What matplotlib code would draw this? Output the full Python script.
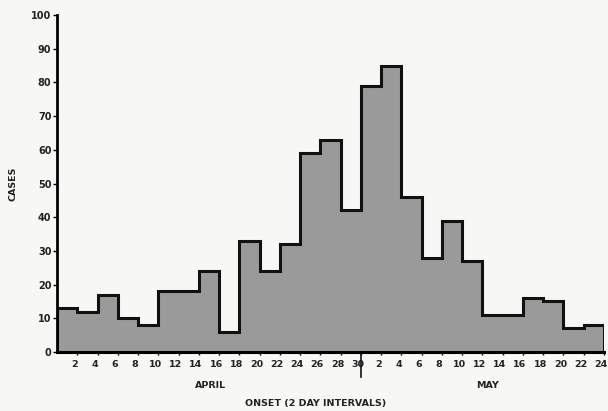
import matplotlib
matplotlib.use("Agg")
import matplotlib.pyplot as plt
import matplotlib.transforms as mtransforms
import numpy as np

# Cases per 2-day onset interval, starting April 1
cases = [13, 12, 17, 10, 8, 18, 18, 24, 6, 33, 24, 32, 59, 63, 42,
         79, 85, 46, 28, 39, 27, 11, 11, 16, 15, 7, 8]
april_labels = [str(d) for d in range(2, 31, 2)]
may_labels = [str(d) for d in range(2, 25, 2)]
y_ticks = list(range(0, 101, 10))

edges = np.arange(0, 2 * len(cases) + 1, 2)
tick_pos = np.arange(2, 2 * len(cases) + 1, 2)
tick_labels = april_labels + may_labels

fig = plt.figure(figsize=(6.08, 4.11), dpi=100, facecolor="#f7f7f5")
ax = fig.add_axes([57 / 608, 1 - 352 / 411, (604 - 57) / 608, (352 - 15) / 411])
ax.set_facecolor("#f7f7f5")

ax.stairs(cases, edges, fill=True, color="#9a9a9a", baseline=0, zorder=1)
ax.stairs(cases, edges, fill=False, color="#111111", linewidth=2.2, baseline=0, zorder=2)

ax.set_xlim(0, edges[-1])
ax.set_ylim(0, 100)
ax.set_yticks(y_ticks)
ax.set_yticklabels([str(v) for v in y_ticks], fontsize=7, fontweight="bold", color="#222222")
ax.set_xticks(tick_pos)
ax.set_xticklabels(tick_labels, fontsize=6.8, fontweight="bold", color="#222222")
ax.tick_params(axis="y", direction="out", length=3, width=1, pad=1)
ax.tick_params(axis="x", direction="out", length=2, width=1, pad=4)

shift = mtransforms.ScaledTranslation(-3 / 100, 0, fig.dpi_scale_trans)
for lab in ax.get_xticklabels():
    lab.set_transform(lab.get_transform() + shift)

for s in ["top", "right"]:
    ax.spines[s].set_visible(False)
ax.spines["left"].set_linewidth(2)
ax.spines["bottom"].set_linewidth(2.2)

# April/May divider
ax.plot([30, 30], [0, -7.5], color="#111111", linewidth=1.2, clip_on=False)

ax.text(-4.3, 50, "CASES", rotation=90, ha="center", va="center",
        fontsize=6.8, fontweight="bold", color="#222222")
ax.text(15.2, -9.8, "APRIL", ha="center", va="center", fontsize=6.8,
        fontweight="bold", color="#222222")
ax.text(42.5, -9.8, "MAY", ha="center", va="center", fontsize=6.8,
        fontweight="bold", color="#222222")
ax.text(25.5, -15.4, "ONSET (2 DAY INTERVALS)", ha="center", va="center",
        fontsize=6.8, fontweight="bold", color="#222222")

fig.savefig("out.png", dpi=100, facecolor=fig.get_facecolor())
